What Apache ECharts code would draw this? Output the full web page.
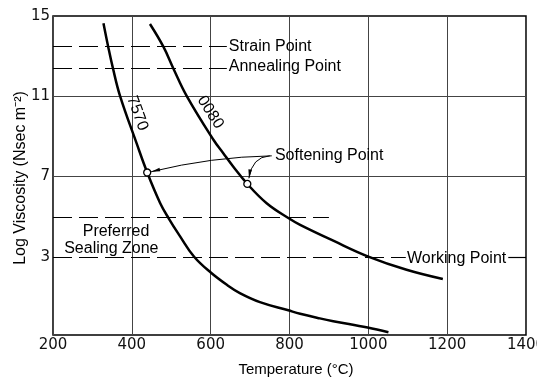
<!DOCTYPE html>
<html><head><meta charset="utf-8">
<script src="https://cdn.jsdelivr.net/npm/echarts@6/dist/echarts.min.js"></script>
<style>html,body{margin:0;padding:0;background:#fff}#c{width:537px;height:379px}</style>
</head><body><div id="c"></div>
<script>
// ---- data ----
const xTicks = [200, 400, 600, 800, 1000, 1200, 1400];
const yTickLabels = [3, 7, 11, 15];
const temp7570 = [328, 340, 352, 370, 412, 439, 472, 493, 522, 558, 601, 641, 674, 725, 797, 827, 877, 911, 998, 1051];
const visc7570 = [14.64, 13.47, 12.40, 11.02, 8.66, 7.20, 5.67, 4.93, 4.03, 3.0, 2.2, 1.6, 1.19, 0.74, 0.33, 0.16, -0.07, -0.21, -0.53, -0.76];
const temp0080 = [446, 480, 505, 539, 607, 632, 657, 693, 742, 797, 827, 911, 1000, 1097, 1189];
const visc0080 = [14.6, 13.47, 12.40, 11.02, 8.83, 8.16, 7.50, 6.63, 5.67, 4.93, 4.59, 3.80, 3.01, 2.35, 1.89];
const softeningTemp = [439, 693];
const softeningVisc = [7.20, 6.63];
const strainPoint = 13.5, annealingPoint = 12.4, sealingUpper = 4.95, workingPoint = 3;
const gridLevels = [7, 11];

// ---- chart ----
const chart = echarts.init(document.getElementById('c'), null, {renderer: 'canvas'});
const dash = {color: '#000', width: 1.2, type: [19, 7]};
const thin = {color: '#444', width: 1, type: 'solid'};
const ml = (x1, x2, y, st) => [{coord: [x1, y], lineStyle: st}, {coord: [x2, y], lineStyle: st}];

const option = {
  animation: false,
  backgroundColor: '#fff',
  grid: {left: 53, right: 11, top: 16, bottom: 44, show: true, borderColor: '#000', borderWidth: 1.5, backgroundColor: 'transparent', outerBoundsMode: 'none', containLabel: false},
  xAxis: {
    type: 'value', min: xTicks[0], max: xTicks[xTicks.length - 1], interval: 200,
    axisLine: {show: false}, axisTick: {show: false},
    splitLine: {show: true, lineStyle: {color: '#444', width: 1}},
    axisLabel: {color: '#111', fontFamily: 'DejaVu Sans', fontSize: 15, margin: 3, hideOverlap: false, formatter: v => String(v)}
  },
  yAxis: {
    type: 'value', min: -0.9, max: 15,
    axisLine: {show: false}, axisTick: {show: false}, splitLine: {show: false},
    axisLabel: {customValues: yTickLabels, color: '#111', fontFamily: 'DejaVu Sans', fontSize: 15, margin: 3, formatter: v => String(v)}
  },
  series: [
    {type: 'line', name: '7570', data: temp7570.map((t, i) => [t, visc7570[i]]), smooth: 0.4, symbol: 'none',
     lineStyle: {color: '#000', width: 2.5}, z: 4, silent: true},
    {type: 'line', name: '0080', data: temp0080.map((t, i) => [t, visc0080[i]]), smooth: 0.4, symbol: 'none',
     lineStyle: {color: '#000', width: 2.5}, z: 4, silent: true},
    {type: 'scatter', name: 'softening', data: softeningTemp.map((t, i) => [t, softeningVisc[i]]),
     symbol: 'circle', symbolSize: 7, itemStyle: {color: '#fff', opacity: 1, borderColor: '#000', borderWidth: 1.3}, z: 6, silent: true,
     markLine: {
       silent: true, symbol: ['none', 'none'], label: {show: false}, z: 3,
       data: [
         ml(200, 1400, gridLevels[0], thin),
         ml(200, 1400, gridLevels[1], thin),
         ml(200, 641, strainPoint, dash),
         ml(200, 641, annealingPoint, dash),
         ml(200, 900, sealingUpper, dash),
         ml(200, 1095, workingPoint, dash),
         ml(1355, 1400, workingPoint, dash)
       ]
     }}
  ]
};
chart.setOption(option);

// ---- annotations (anchored in data coordinates) ----
const texts = [
  {text: 'Strain Point', at: [646, strainPoint], align: 'left'},
  {text: 'Annealing Point', at: [646, 12.5], align: 'left'},
  {text: 'Working Point', at: [1098, 2.9], align: 'left'},
  {text: 'Softening Point', at: [763, 8.02], align: 'left'},
  {text: 'Preferred', at: [360, 4.25]},
  {text: 'Sealing Zone', at: [348, 3.43]},
  {text: '7570', at: [414, 10.15], rot: -70},
  {text: '0080', at: [599, 10.2], rot: -57}
];
const arrows = [
  {from: [755, 8.03], ctrl: [603, 7.98], to: [449, 7.24]},
  {from: [750, 8.03], ctrl: [705, 7.98], to: [697, 6.91]}
];
function P(p) { return chart.convertToPixel({gridIndex: 0}, p); }
const g = [];
texts.forEach(t => {
  const p = P(t.at);
  g.push({type: 'text', x: p[0], y: p[1], rotation: (t.rot || 0) * Math.PI / 180, z: 20, silent: true,
    style: {text: t.text, fill: '#000', font: '16px "Liberation Sans"', align: t.align || 'center', textAlign: t.align || 'center', verticalAlign: 'middle', textVerticalAlign: 'middle'}});
});
arrows.forEach(a => {
  const s = P(a.from), c = P(a.ctrl), e = P(a.to);
  g.push({type: 'bezierCurve', z: 20, silent: true, shape: {x1: s[0], y1: s[1], cpx1: c[0], cpy1: c[1], x2: e[0], y2: e[1]}, style: {stroke: '#000', lineWidth: 1, fill: null}});
  const dx = e[0] - c[0], dy = e[1] - c[1], L = Math.hypot(dx, dy), ux = dx / L, uy = dy / L;
  const len = 9, hw = 1.8, bx = e[0] - ux * len, by = e[1] - uy * len;
  g.push({type: 'polygon', z: 20, silent: true, shape: {points: [[e[0], e[1]], [bx - uy * hw, by + ux * hw], [bx + uy * hw, by - ux * hw]]}, style: {fill: '#000'}});
});
g.push({type: 'text', x: 21, y: 178, rotation: Math.PI / 2, z: 20, silent: true,
  style: {text: 'Log Viscosity (Nsec m⁻²)', fill: '#000', font: '16px "Liberation Sans"', align: 'center', textAlign: 'center', verticalAlign: 'middle', textVerticalAlign: 'middle'}});
g.push({type: 'text', x: 296, y: 370, z: 20, silent: true,
  style: {text: 'Temperature (°C)', fill: '#000', font: '15px "Liberation Sans"', align: 'center', textAlign: 'center', verticalAlign: 'middle', textVerticalAlign: 'middle'}});
chart.setOption({graphic: g});
</script>
</body></html>
